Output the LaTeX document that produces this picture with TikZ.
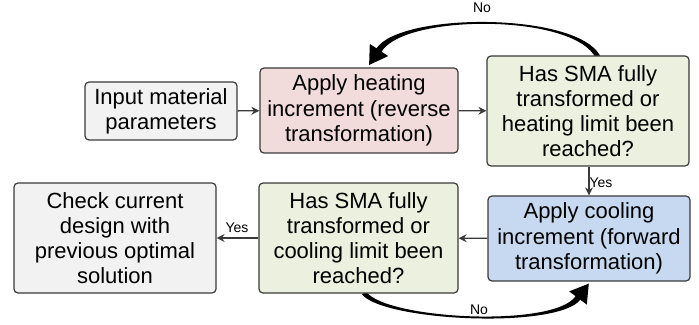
\documentclass[tikz,border=0pt]{standalone}
\usepackage{fontspec}
\setmainfont{Liberation Sans}
\usetikzlibrary{arrows.meta}
\definecolor{bordc}{HTML}{3A3A3A}
\definecolor{grayf}{HTML}{F2F2F2}
\definecolor{pinkf}{HTML}{F2DCDB}
\definecolor{greenf}{HTML}{EBF1DE}
\definecolor{bluef}{HTML}{C6D9F1}
\tikzset{
  box/.style={draw=bordc, line width=0.6pt, rounded corners=2pt, align=center,
    font=\fontsize{11}{12.6}\selectfont, inner sep=1pt},
  conn/.style={draw=bordc, line width=0.7pt, -{Stealth[length=4pt,width=4pt]}},
  lbl/.style={font=\fontsize{7}{8}\selectfont, inner sep=0pt},
  bigarrow/.style={fill=black, line join=round}
}
\begin{document}
\begin{tikzpicture}[x=0.5pt, y=-0.5pt]
\useasboundingbox (0,0) rectangle (699,325);

% tapered curved "No" arrows (drawn first so the boxes cover their roots)
\coordinate (s1o) at (600.2,55.9);
\coordinate (s1i) at (595.8,58.1);
\fill[bigarrow] (s1o) .. controls (577,12) and (401,12) .. (376.5,48.3) -- (369.8,43.95) -- (369.1,65) -- (388.2,56.05) -- (381.5,51.7) .. controls (405,13.5) and (574,13.5) .. (s1i) -- cycle;
\coordinate (s2o) at (362,294.5);
\coordinate (s2i) at (366,291.5);
\fill[bigarrow] (s2o) .. controls (384,321) and (556,329.5) .. (580.4,299.8) -- (586.8,304.6) -- (588.8,283.6) -- (569.2,291.4) -- (575.6,296.2) .. controls (554,328) and (386,319.5) .. (s2i) -- cycle;

\node[box, fill=grayf, minimum width=76pt, minimum height=29pt] (A) at (161,111) {Input material\\parameters};
\node[box, fill=pinkf, minimum width=99pt, minimum height=42.5pt] (B) at (359,110.5) {Apply heating\\increment (reverse\\transformation)};
\node[box, fill=greenf, minimum width=101pt, minimum height=55pt] (C) at (588,111) {Has SMA fully\\transformed or\\heating limit been\\reached?};
\node[box, fill=bluef, minimum width=101pt, minimum height=42.5pt] (D) at (589,238.5) {Apply cooling\\increment (forward\\transformation)};
\node[box, fill=greenf, minimum width=99.5pt, minimum height=55pt] (E) at (358.5,238) {Has SMA fully\\transformed or\\cooling limit been\\reached?};
\node[box, fill=grayf, minimum width=101pt, minimum height=55pt] (F) at (115,238) {Check current\\design with\\previous optimal\\solution};

\draw[conn] (A) -- (B);
\draw[conn] (B) -- (C);
\draw[conn] (C.south -| D.north) -- (D.north);
\draw[conn] (D) -- (E);
\draw[conn] (E) -- (F);

\node[lbl] (yes1) at (601,183) {Yes};
\node[lbl] (yes2) at (237,228) {Yes};
\node[lbl] (no1) at (482,8) {No};
\node[lbl] (no2) at (479,310) {No};
\end{tikzpicture}
\end{document}
